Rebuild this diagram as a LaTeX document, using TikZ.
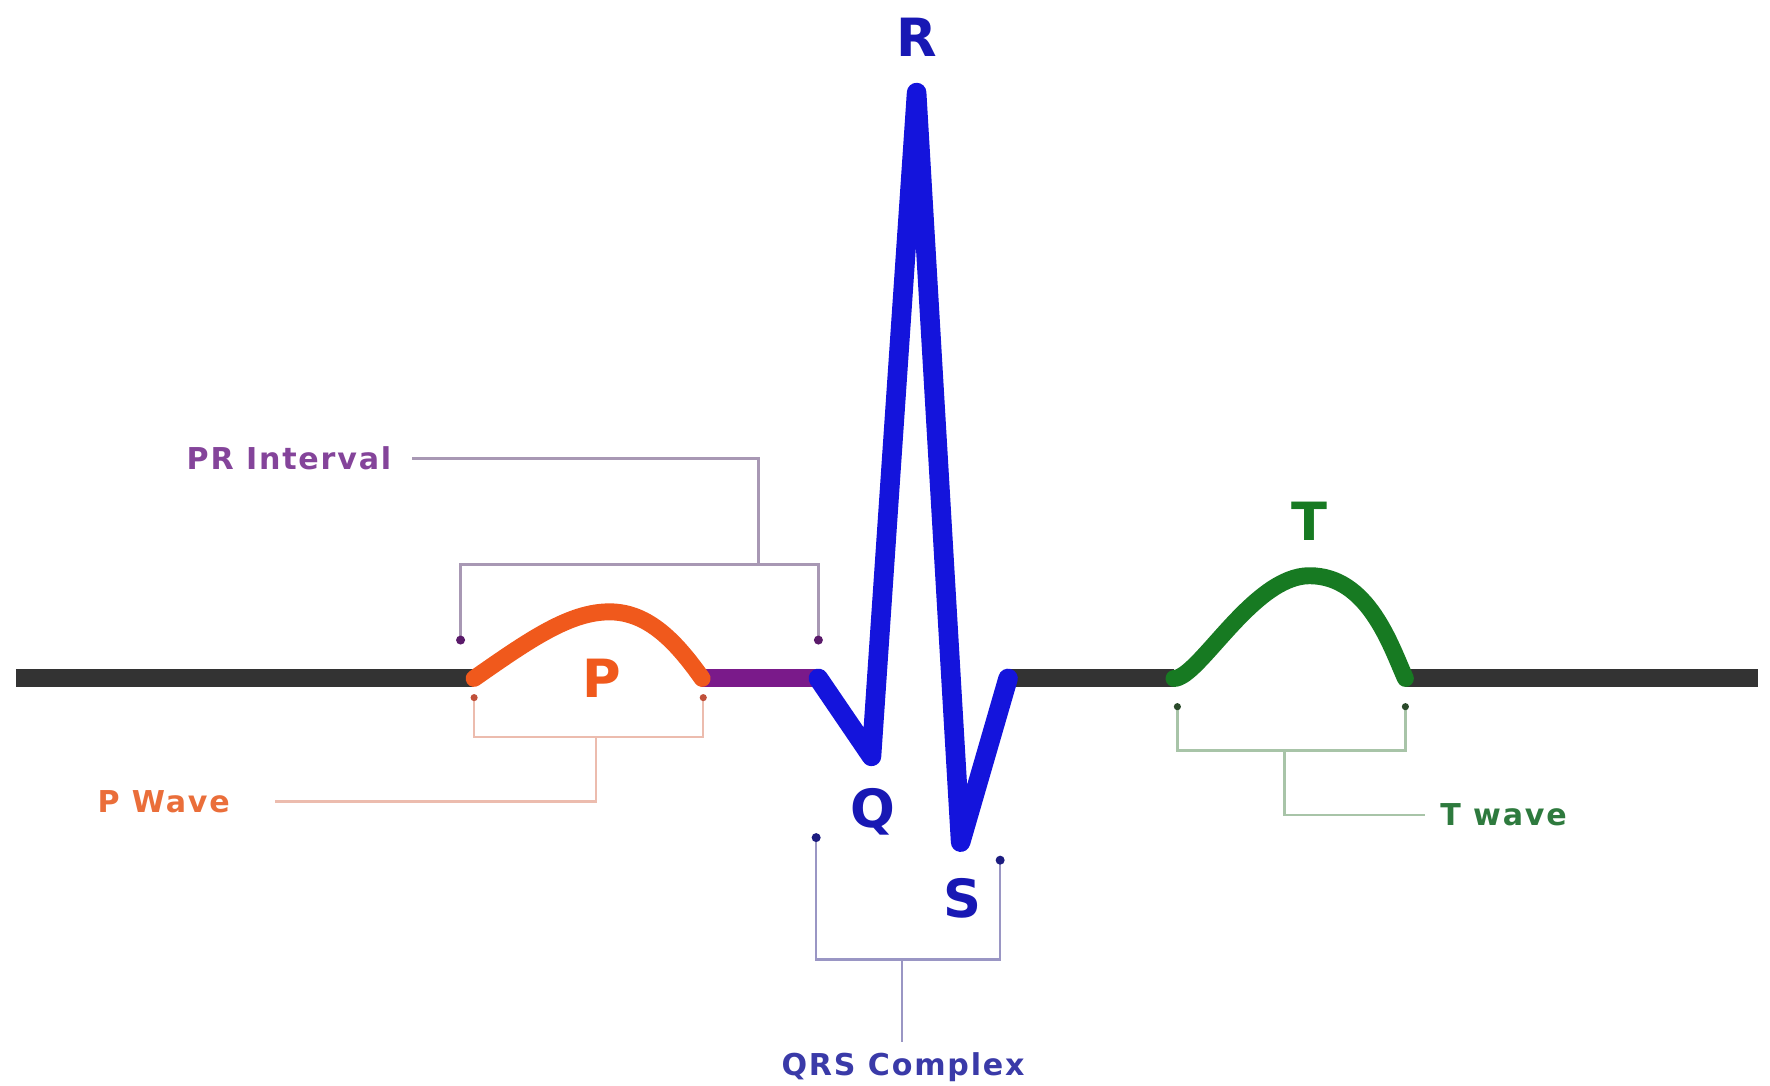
\documentclass[tikz,border=0pt]{standalone}
\usepackage{fontspec}
\setmainfont{DejaVu Sans}
\newfontfamily\lblfont[LetterSpace=6]{DejaVu Sans}
\definecolor{baseC}{HTML}{333333}
\definecolor{pC}{HTML}{F0591C}
\definecolor{prC}{HTML}{7A1A8A}
\definecolor{qrsC}{HTML}{1414DC}
\definecolor{tC}{HTML}{177A22}
\definecolor{prLine}{HTML}{A898B4}
\definecolor{prDot}{HTML}{5A1A6A}
\definecolor{prText}{HTML}{84449A}
\definecolor{pLine}{HTML}{ECBCAE}
\definecolor{pDot}{HTML}{C0503A}
\definecolor{pText}{HTML}{EA6E3A}
\definecolor{qLine}{HTML}{9A96C4}
\definecolor{qDot}{HTML}{1C1C80}
\definecolor{qText}{HTML}{3A3AA8}
\definecolor{letterC}{HTML}{1818B4}
\definecolor{tLine}{HTML}{A8C4A8}
\definecolor{tDot}{HTML}{2A4A2A}
\definecolor{tText}{HTML}{2E7A3E}
\begin{document}
\begin{tikzpicture}[x=0.6pt,y=-0.6pt,
  trace/.style={line width=9.6pt,line cap=butt,line join=round},
  wave/.style={line width=9pt,line cap=round,line join=round},
  bracket/.style={line width=1.3pt},
  dotmark/.style={circle,fill,inner sep=0pt,minimum size=4.8pt},
  lbl/.style={font=\lblfont\bfseries\fontsize{16}{19}\selectfont,inner sep=0pt},
  big/.style={font=\bfseries\fontsize{28}{32}\selectfont,inner sep=0pt}]
\useasboundingbox (0,0) rectangle (1568,962);
% trace coordinates
\coordinate (L) at (14,601);
\coordinate (Ps) at (420,601);
\coordinate (Pe) at (622,601);
\coordinate (Qs) at (725,601);
\coordinate (Qt) at (772,670);
\coordinate (Rt) at (812,82);
\coordinate (St) at (851,746);
\coordinate (Se) at (893,601);
\coordinate (Ts) at (1040,601);
\coordinate (Te) at (1245,601);
\coordinate (Rend) at (1557,601);
% baseline pieces
\draw[trace,baseC] (L) -- (Ps);
\draw[trace,baseC] (Se) -- (Ts);
\draw[trace,baseC] (Te) -- (Rend);
\draw[trace,prC] (Pe) -- (Qs);
% P wave
\draw[wave,pC] (Ps) .. controls (470,566) and (505,542) .. (540,542)
   .. controls (575,542) and (600,570) .. (Pe);
% QRS
\draw[wave,qrsC,line width=10.4pt] (Qs) -- (Qt) -- (Rt) -- (St) -- (Se);
% T wave
\draw[wave,tC] (Ts) .. controls (1062,601) and (1110,510) .. (1160,510)
   .. controls (1212,510) and (1232,572) .. (Te);
% letters
\node[big,letterC] (R) at (812,33) {R};
\node[big,letterC] (Q) at (773,719) {Q};
\node[big,letterC] (S) at (853,796) {S};
\node[big,pC] (P) at (533,601) {P};
\node[big,tC] (T) at (1160,462) {T};
% PR interval bracket
\node[lbl,prText] (prl) at (256,406) {PR Interval};
\coordinate (pr1) at (408,567);
\coordinate (pr2) at (725,567);
\coordinate (prk) at (672,500);
\draw[bracket,prLine] (pr1) |- (prk) -| (pr2);
\draw[bracket,prLine] (prk) |- ([xshift=11pt]prl.east);
\node[dotmark,prDot] at (pr1) {};
\node[dotmark,prDot] at (pr2) {};
% P wave bracket
\node[lbl,pText] (pwl) at (145,710) {P Wave};
\coordinate (pw1) at (420,618);
\coordinate (pw2) at (623,618);
\coordinate (pwk) at (528,653);
\draw[bracket,pLine] (pw1) |- (pwk) -| (pw2);
\draw[bracket,pLine] (pwk) |- ([xshift=24pt]pwl.east);
\node[dotmark,pDot,minimum size=3.8pt] at (pw1) {};
\node[dotmark,pDot,minimum size=3.8pt] at (pw2) {};
% QRS bracket
\node[lbl,qText] (ql) at (800,945) {QRS Complex};
\coordinate (q1) at (723,742);
\coordinate (q2) at (886,762);
\coordinate (qk) at (799,850);
\draw[bracket,qLine] (q1) |- (qk) -| (q2);
\draw[bracket,qLine] (qk) -- ([yshift=5pt]ql.north -| qk);
\node[dotmark,qDot] at (q1) {};
\node[dotmark,qDot] at (q2) {};
% T wave bracket
\node[lbl,tText] (tl) at (1332,722) {T wave};
\coordinate (t1) at (1043,626);
\coordinate (t2) at (1245,626);
\coordinate (tk) at (1138,665);
\draw[bracket,tLine] (t1) |- (tk) -| (t2);
\draw[bracket,tLine] (tk) |- ([xshift=-8pt]tl.west);
\node[dotmark,tDot,minimum size=3.8pt] at (t1) {};
\node[dotmark,tDot,minimum size=3.8pt] at (t2) {};
\end{tikzpicture}
\end{document}
